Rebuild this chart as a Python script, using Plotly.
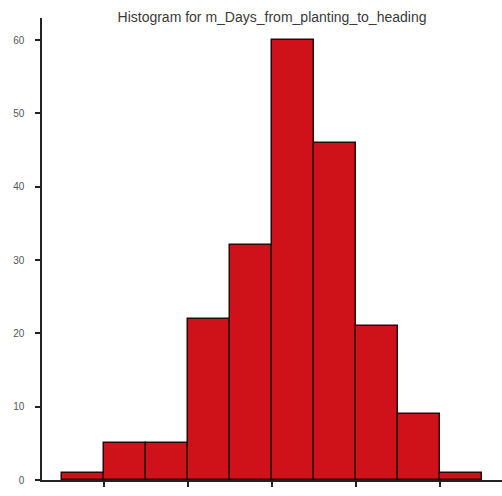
import plotly.graph_objects as go

# Histogram of days from planting to heading (bin width 5 days)
bin_edges = [65, 70, 75, 80, 85, 90, 95, 100, 105, 110, 115]
counts = [1, 5, 5, 22, 32, 60, 46, 21, 9, 1]
y_ticks = [0, 10, 20, 30, 40, 50, 60]
x_ticks = [70, 80, 90, 100, 110]
title_text = "Histogram for m_Days_from_planting_to_heading"

centers = [(a + b) / 2 for a, b in zip(bin_edges[:-1], bin_edges[1:])]
widths = [b - a for a, b in zip(bin_edges[:-1], bin_edges[1:])]

fig = go.Figure(
    go.Bar(
        x=centers,
        y=counts,
        width=widths,
        marker=dict(color="#CF1119", line=dict(color="#2a0808", width=1.5)),
        hoverinfo="y",
    )
)

plot_w = 502 - 42

fig.update_layout(
    width=502,
    height=496,
    margin=dict(l=42, r=0, t=18, b=16),
    paper_bgcolor="white",
    plot_bgcolor="white",
    showlegend=False,
    bargap=0,
    font=dict(family="Liberation Sans, Arial, sans-serif", color="#333"),
    title=dict(
        text=title_text,
        x=(42 + 502) / 2 / 502,
        xanchor="center",
        y=1 - 17 / 496,
        yanchor="middle",
        font=dict(size=14, color="#3a3a3a"),
    ),
    # baseline runs a little past the y axis on the left
    shapes=[
        dict(
            type="line",
            xref="paper",
            yref="y",
            x0=-7 / plot_w,
            x1=0,
            y0=0,
            y1=0,
            line=dict(color="#222", width=1.5),
        )
    ],
)

fig.update_xaxes(
    range=[62.6, 117.4],
    tickmode="array",
    tickvals=x_ticks,
    showticklabels=False,
    ticks="outside",
    ticklen=5,
    tickwidth=1.5,
    tickcolor="#222",
    showline=True,
    linecolor="#222",
    linewidth=1.5,
    showgrid=False,
    zeroline=False,
)

fig.update_yaxes(
    range=[0, 63],
    tickmode="array",
    tickvals=y_ticks,
    ticktext=[str(v) for v in y_ticks],
    ticks="outside",
    ticklen=5,
    tickwidth=1.5,
    tickcolor="#222",
    tickfont=dict(size=10, color="#555"),
    ticklabelstandoff=9,
    showline=True,
    linecolor="#222",
    linewidth=1.5,
    showgrid=False,
    zeroline=False,
)

fig.write_html("out.html")
